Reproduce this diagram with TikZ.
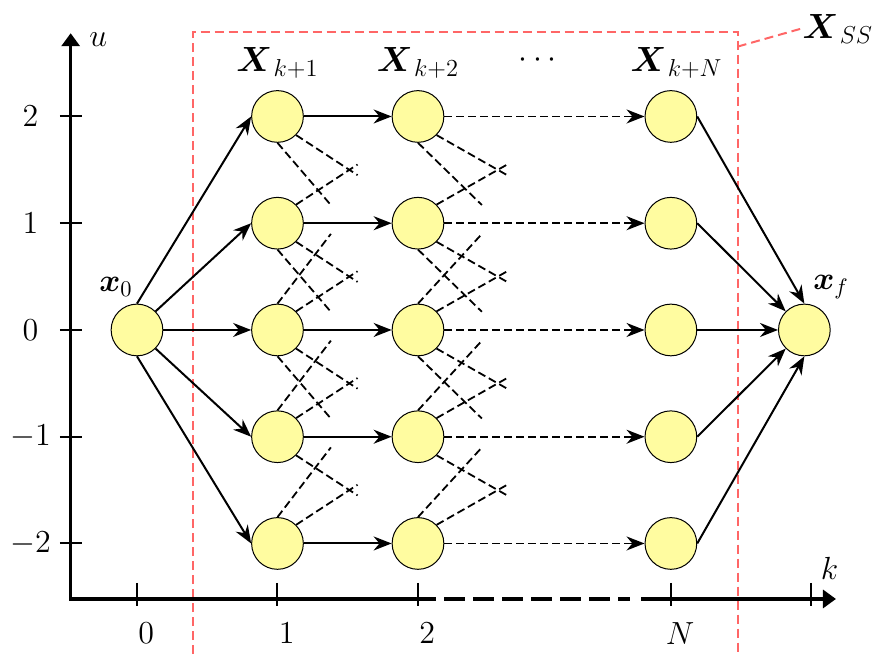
\RequirePackage{fix-cm}
\documentclass[tikz,border=0pt]{standalone}
\usepackage{amsmath}
\usepackage{bm}
\usetikzlibrary{arrows.meta}
\definecolor{stateyellow}{RGB}{255,252,160}
\definecolor{setred}{RGB}{255,102,102}
\tikzset{
  state/.style={circle,draw,line width=0.5pt,fill=stateyellow,minimum size=25.85pt,inner sep=0pt},
  trans/.style={line width=1pt,->},
  cut/.style={line width=0.9pt,dash pattern=on 4pt off 2pt},
  axis/.style={line width=1.6pt},
  tick/.style={line width=1pt},
  setline/.style={setred,line width=1pt,dash pattern=on 4.5pt off 2.5pt},
  lab/.style={inner sep=1pt},
  setlab/.style={inner sep=1pt,font=\fontsize{17.5pt}{21pt}\selectfont}
}

\begin{document}
\begin{tikzpicture}[x=70.25pt,y=53.375pt,>={Stealth[length=9pt,width=7pt]},
  font=\fontsize{16pt}{19pt}\selectfont]
  \useasboundingbox (-0.975,-3.045) rectangle (5.26,3.091);
  % admissible set X_SS
  \draw[setline] (0.40,-3.3) -- (0.40,2.795) -- (4.275,2.795) coordinate (boxne) -- (4.275,-3.3);
  \node[setlab,anchor=west] (xss) at (4.72,2.82) {$\bm{X}_{\,SS}$};
  \draw[setline] ([yshift=-7.5pt]boxne) -- (xss.west);
  % axes
  \coordinate (orig) at (-0.472,-2.52);
  \draw[axis,-{Triangle[length=6.5pt,width=9pt]}] ([yshift=-0.8pt]orig) -- (-0.472,2.78) coordinate (uend);
  \draw[axis] (orig) -- (2.13,-2.52);
  \draw[axis,dash pattern=on 10.5pt off 4pt,dash phase=10.5pt] (2.13,-2.52) -- (3.51,-2.52);
  \draw[axis,-{Triangle[length=6.5pt,width=9pt]}] (3.59,-2.52) -- (4.975,-2.52) coordinate (kend);
  \node[lab] (ulab) at (-0.275,2.717) {$u$};
  \node[lab] (klab) at (4.93,-2.23) {$k$};
  % ticks and tick labels
  \foreach \u [count=\i] in {2,1,0,-1,-2} {
    \draw[tick] (-0.548,\u) -- (-0.39,\u);
    \node[lab] (ut\i) at (-0.758,\u) {$\u$};
  }
  \foreach \k/\t [count=\i] in {0/0,1/1,2/2,3.8/N} {
    \draw[tick] (\k,-2.37) -- (\k,-2.59);
    \node[lab] (kt\i) at (\k+0.065,-2.84) {$\t$};
  }
  \draw[tick] (4.8,-2.37) -- (4.8,-2.59);
  % states
  \node[state] (x0) at (0,0) {};
  \node[lab] (x0lab) at (-0.15,0.40) {$\bm{x}_0$};
  \foreach \u [count=\r] in {2,1,0,-1,-2} {
    \node[state] (c1r\r) at (1,\u) {};
    \node[state] (c2r\r) at (2,\u) {};
    \node[state] (cNr\r) at (3.8,\u) {};
  }
  \node[state] (xf) at (4.75,0) {};
  \node[lab] (xflab) at (4.94,0.40) {$\bm{x}_f$};
  \node[setlab] (lab1) at (1,2.5) {$\bm{X}_{\,k+1}$};
  \node[setlab] (lab2) at (2,2.5) {$\bm{X}_{\,k+2}$};
  \node[lab] (labdots) at (2.87,2.53) {$\cdots$};
  \node[setlab] (labN) at (3.84,2.5) {$\bm{X}_{\,k+N}$};
  % cut transitions
  \foreach \col/\sx/\tx in {1/0.57/0.38,2/0.635/0.455} {
    \foreach \r in {1,...,5} {
      \ifnum\r>1 \draw[cut] (c\col r\r.north east) -- ([shift={(\sx,0.55)}]c\col r\r.center); \fi
      \ifnum\r>2 \draw[cut] (c\col r\r.north) -- ([shift={(\tx,0.9)}]c\col r\r.center); \fi
      \ifnum\r<5 \draw[cut] (c\col r\r.south east) -- ([shift={(\sx,-0.55)}]c\col r\r.center); \fi
      \ifnum\r<4 \draw[cut] (c\col r\r.south) -- ([shift={(\tx,-0.83)}]c\col r\r.center); \fi
    }
  }
  % transitions
  \foreach \r/\p/\q in {1/north/north,2/north east/north west,3/east/west,4/south east/south west,5/south/south} {
    \draw[trans] (x0.\p) -- (c1r\r.west);
    \draw[trans] (c1r\r) -- (c2r\r);
    \draw[trans,cut] (c2r\r) -- (cNr\r);
    \draw[trans] (cNr\r.east) -- (xf.\q);
  }
\end{tikzpicture}
\end{document}
